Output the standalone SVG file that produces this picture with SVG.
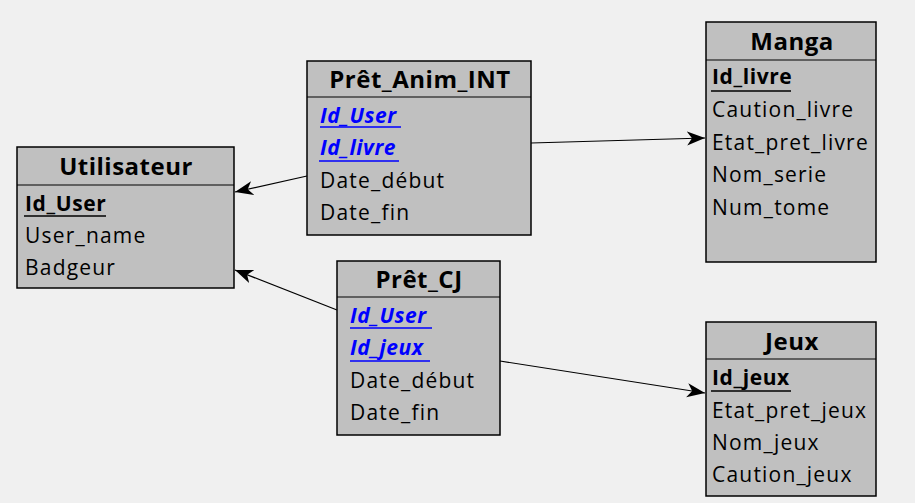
<svg xmlns="http://www.w3.org/2000/svg" width="915" height="503" viewBox="0 0 915 503">
<style>
.box{fill:#c0c0c0;stroke:#000;stroke-width:1.5}
.div{stroke:#000;stroke-width:1.2}
.title{font-family:"Open Sans","Noto Sans",sans-serif;font-weight:bold;font-size:24px;letter-spacing:0.5px;fill:#000;text-anchor:middle}
.row{font-family:"Open Sans","Noto Sans",sans-serif;font-size:21px;letter-spacing:1.2px;fill:#000}
.pk{font-weight:bold;letter-spacing:0.6px}
.fk{font-weight:bold;font-style:italic;fill:#0000ff;letter-spacing:0.6px}
.ul{stroke:#000;stroke-width:1.5}
.ulb{stroke:#0000ff;stroke-width:1.5}
.conn{stroke:#000;stroke-width:1.2;fill:none;marker-end:url(#arr)}
</style>
<defs>
<marker id="arr" markerUnits="userSpaceOnUse" markerWidth="20" markerHeight="16" refX="18" refY="7" orient="auto">
<path d="M0,0 L18,7 L0,14 L5,7 z" fill="#000"/>
</marker>
</defs>
<rect width="915" height="503" fill="#f0f0f0"/>
<g id="connectors">
<line class="conn" x1="307" y1="176" x2="235" y2="192"/>
<line class="conn" x1="337" y1="310" x2="235" y2="270"/>
<line class="conn" x1="531" y1="143" x2="705" y2="138"/>
<line class="conn" x1="500" y1="361" x2="705" y2="393"/>
</g>
<g id="utilisateur">
<rect class="box" x="17" y="147" width="217" height="141"/>
<line class="div" x1="17" y1="185" x2="234" y2="185"/>
<text class="title" x="126" y="175">Utilisateur</text>
<text class="row pk" x="25" y="211">Id_User</text>
<line class="ul" x1="24" y1="216" x2="106" y2="216"/>
<text class="row" x="25" y="243">User_name</text>
<text class="row" x="25" y="275">Badgeur</text>
</g>
<g id="pret_anim_int">
<rect class="box" x="307" y="61" width="224" height="174"/>
<line class="div" x1="307" y1="97" x2="531" y2="97"/>
<text class="title" x="420" y="88">Prêt_Anim_INT</text>
<text class="row fk" x="320" y="123">Id_User</text>
<line class="ulb" x1="320" y1="127" x2="401" y2="127"/>
<text class="row fk" x="320" y="155">Id_livre</text>
<line class="ulb" x1="319" y1="161" x2="399" y2="161"/>
<text class="row" x="320" y="188">Date_début</text>
<text class="row" x="320" y="220">Date_fin</text>
</g>
<g id="manga">
<rect class="box" x="706" y="22" width="170" height="240"/>
<line class="div" x1="706" y1="60" x2="876" y2="60"/>
<text class="title" x="792" y="50">Manga</text>
<text class="row pk" x="712" y="84">Id_livre</text>
<line class="ul" x1="711" y1="91" x2="791" y2="91"/>
<text class="row" x="712" y="117">Caution_livre</text>
<text class="row" x="712" y="150">Etat_pret_livre</text>
<text class="row" x="712" y="182">Nom_serie</text>
<text class="row" x="712" y="215">Num_tome</text>
</g>
<g id="pret_cj">
<rect class="box" x="337" y="261" width="163" height="174"/>
<line class="div" x1="337" y1="297" x2="500" y2="297"/>
<text class="title" x="419" y="288">Prêt_CJ</text>
<text class="row fk" x="350" y="323">Id_User</text>
<line class="ulb" x1="350" y1="328" x2="432" y2="328"/>
<text class="row fk" x="350" y="355">Id_jeux</text>
<line class="ulb" x1="350" y1="361" x2="430" y2="361"/>
<text class="row" x="350" y="388">Date_début</text>
<text class="row" x="350" y="420">Date_fin</text>
</g>
<g id="jeux">
<rect class="box" x="706" y="322" width="170" height="174"/>
<line class="div" x1="706" y1="359" x2="876" y2="359"/>
<text class="title" x="792" y="350">Jeux</text>
<text class="row pk" x="712" y="385">Id_jeux</text>
<line class="ul" x1="711" y1="391" x2="791" y2="391"/>
<text class="row" x="712" y="418">Etat_pret_jeux</text>
<text class="row" x="712" y="450">Nom_jeux</text>
<text class="row" x="712" y="482">Caution_jeux</text>
</g>
</svg>
